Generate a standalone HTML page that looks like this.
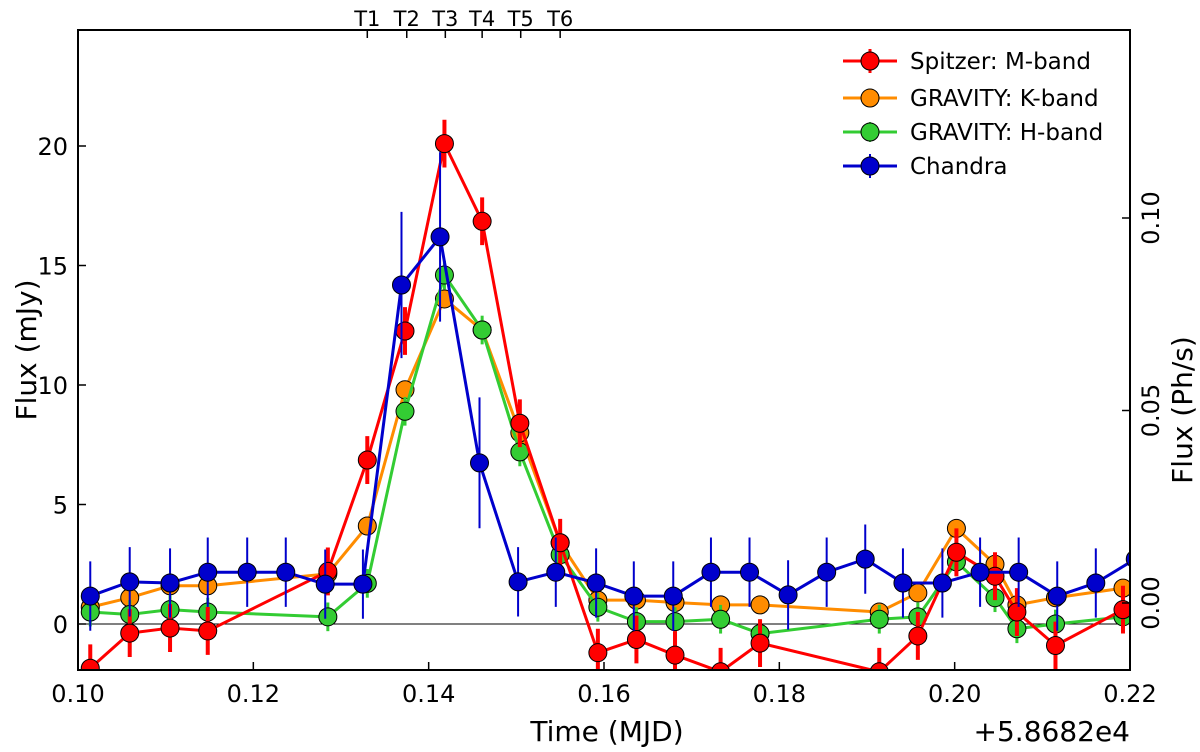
<!DOCTYPE html>
<html><head><meta charset="utf-8"><style>
body{margin:0;background:#fff;}
svg text{font-family:"DejaVu Sans","Liberation Sans",sans-serif;}
</style></head><body>
<svg id="c" width="1200" height="747" viewBox="0 0 1200 747" xmlns="http://www.w3.org/2000/svg"></svg>
<script>
const redT=[0.1014,0.1059,0.1105,0.1148,0.1285,0.1330,0.1373,0.1418,0.1461,0.1504,0.1550,0.1593,0.1637,0.1681,0.1733,0.1778,0.1914,0.1958,0.2002,0.2046,0.2071,0.2115,0.2192];
const redV=[-1.85,-0.38,-0.17,-0.29,2.2,6.86,12.26,20.1,16.85,8.4,3.4,-1.2,-0.65,-1.3,-2.0,-0.8,-2.0,-0.5,3.0,2.0,0.5,-0.9,0.6];
const orgT=[0.1014,0.1059,0.1105,0.1148,0.1285,0.1330,0.1373,0.1418,0.1461,0.1504,0.1550,0.1593,0.1637,0.1681,0.1733,0.1778,0.1914,0.1958,0.2002,0.2046,0.2071,0.2115,0.2192];
const orgV=[0.7,1.1,1.6,1.6,2.1,4.1,9.8,13.6,12.3,8.0,3.4,1.0,1.0,0.9,0.8,0.8,0.5,1.3,4.0,2.5,0.8,1.1,1.5];
const grnT=[0.1014,0.1059,0.1105,0.1148,0.1285,0.1330,0.1373,0.1418,0.1461,0.1504,0.1550,0.1593,0.1637,0.1681,0.1733,0.1778,0.1914,0.1958,0.2002,0.2046,0.2071,0.2115,0.2192];
const grnV=[0.5,0.4,0.6,0.5,0.3,1.7,8.9,14.6,12.3,7.2,2.9,0.7,0.1,0.1,0.2,-0.4,0.2,0.3,2.6,1.1,-0.2,0.0,0.3];
const bluT=[0.1014,0.1059,0.1105,0.1148,0.1193,0.1237,0.1282,0.1325,0.1369,0.1413,0.1458,0.1502,0.1545,0.1591,0.1634,0.1679,0.1722,0.1766,0.1810,0.1854,0.1898,0.1941,0.1986,0.2029,0.2073,0.2117,0.2161,0.2206];
const bluV=[0.0018,0.0055,0.0052,0.008,0.008,0.008,0.0049,0.0049,0.0826,0.0951,0.0364,0.0055,0.008,0.0052,0.0018,0.0018,0.008,0.008,0.0021,0.008,0.0114,0.0052,0.0052,0.008,0.008,0.0018,0.0052,0.0114];
const bluE=[0.009,0.009,0.009,0.009,0.009,0.009,0.009,0.009,0.019,0.022,0.017,0.009,0.009,0.009,0.009,0.009,0.009,0.009,0.009,0.009,0.009,0.009,0.009,0.009,0.009,0.009,0.009,0.009];
const xTicks=[0.10,0.12,0.14,0.16,0.18,0.20,0.22];
const yTicks=[0,5,10,15,20];
const y2Ticks=[0.00,0.05,0.10];
const topT=[0.1330,0.1375,0.1419,0.1461,0.1505,0.1550];
const topL=["T1","T2","T3","T4","T5","T6"];
const L=78,R=1130,T=30,B=670;
const X=t=>L+(t-0.10)/0.12*(R-L);
const Y=v=>624-v*23.9;
const Y2=v=>603-v*3850;
const svg=document.getElementById('c');
const NS='http://www.w3.org/2000/svg';
function mk(tag,at,parent){const e=document.createElementNS(NS,tag);for(const k in at)e.setAttribute(k,at[k]);(parent||svg).appendChild(e);return e;}
const defs=mk('defs',{});const cp=mk('clipPath',{id:'pc'},defs);mk('rect',{x:L,y:T,width:R-L,height:B-T},cp);
const plot=mk('g',{'clip-path':'url(#pc)'});


const zl=mk('line',{x1:L,x2:R,y1:Y(0),y2:Y(0),stroke:'#000','stroke-width':1},plot);


function series(name,ts,vs,ys,col,errs,ew){
  const g=mk('g',{},plot);
  
  
  if(errs){ts.forEach((t,i)=>{const e=errs[i];const l=mk('line',{x1:X(t),x2:X(t),y1:ys(vs[i]-e),y2:ys(vs[i]+e),stroke:col,'stroke-width':ew},g);
    
    });}
  const p=mk('polyline',{points:ts.map((t,i)=>X(t)+','+ys(vs[i])).join(' '),fill:'none',stroke:col,'stroke-width':3,'stroke-linejoin':'round'},g);
  
  
  ts.forEach((t,i)=>{const c=mk('circle',{cx:X(t),cy:ys(vs[i]),r:9,fill:col,stroke:'#000','stroke-width':1},g);
    
    });
}
series('gravity-k-band',orgT,orgV,Y,'#ff8c00',orgV.map(()=>0.3),2);
series('gravity-h-band',grnT,grnV,Y,'#33cc33',grnV.map(()=>0.6),3);
series('spitzer-m-band',redT,redV,Y,'#ff0000',redV.map(()=>1.0),4);
series('chandra',bluT,bluV,Y2,'#0000cc',bluE,2);
const fr=mk('rect',{x:L,y:T,width:R-L,height:B-T,fill:'none',stroke:'#000','stroke-width':2});


xTicks.forEach(t=>{mk('line',{x1:X(t),x2:X(t),y1:B,y2:B-8,stroke:'#000','stroke-width':1.5});
  const tx=mk('text',{x:X(t),y:702,'text-anchor':'middle','font-size':24});tx.textContent=t.toFixed(2);
  
  });
yTicks.forEach(v=>{mk('line',{x1:L,x2:L+8,y1:Y(v),y2:Y(v),stroke:'#000','stroke-width':1.5});
  const tx=mk('text',{x:68,y:Y(v)+9,'text-anchor':'end','font-size':24});tx.textContent=v;
  
  });
y2Ticks.forEach(v=>{mk('line',{x1:R,x2:R-8,y1:Y2(v),y2:Y2(v),stroke:'#000','stroke-width':1.5});
  const tx=mk('text',{x:1150,y:Y2(v)+9,'text-anchor':'middle','font-size':24,transform:`rotate(-90 1150 ${Y2(v)})`});tx.textContent=v.toFixed(2);
  
  });
topT.forEach((t,i)=>{mk('line',{x1:X(t),x2:X(t),y1:T,y2:T+8,stroke:'#000','stroke-width':1.5});
  const tx=mk('text',{x:X(t),y:26,'text-anchor':'middle','font-size':21});tx.textContent=topL[i];
  
  });
</script>
<svg style="position:absolute;left:0;top:0" width="1200" height="747">
<text x="607" y="741" text-anchor="middle" font-size="28" font-family="DejaVu Sans, sans-serif">Time (MJD)</text>
<text x="1130" y="741" text-anchor="end" font-size="28" font-family="DejaVu Sans, sans-serif">+5.8682e4</text>
<text x="36" y="350" text-anchor="middle" font-size="28" font-family="DejaVu Sans, sans-serif" transform="rotate(-90 36 350)">Flux (mJy)</text>
<text x="1192" y="410" text-anchor="middle" font-size="28" font-family="DejaVu Sans, sans-serif" transform="rotate(-90 1192 410)">Flux (Ph/s)</text>
<g font-family="DejaVu Sans, sans-serif" font-size="23">
<g><line x1="843" x2="897" y1="61" y2="61" stroke="#f00" stroke-width="3"/><line x1="870" x2="870" y1="49" y2="73" stroke="#f00" stroke-width="3"/><circle cx="870" cy="61" r="9" fill="#f00" stroke="#000"/><text x="910" y="69">Spitzer: M-band</text></g>
<g><line x1="843" x2="897" y1="98" y2="98" stroke="#ff8c00" stroke-width="3"/><circle cx="870" cy="98" r="9" fill="#ff8c00" stroke="#000"/><text x="910" y="106">GRAVITY: K-band</text></g>
<g><line x1="843" x2="897" y1="132" y2="132" stroke="#33cc33" stroke-width="3"/><line x1="870" x2="870" y1="122" y2="142" stroke="#33cc33" stroke-width="2"/><circle cx="870" cy="132" r="9" fill="#33cc33" stroke="#000"/><text x="910" y="140">GRAVITY: H-band</text></g>
<g><line x1="843" x2="897" y1="166" y2="166" stroke="#0000cc" stroke-width="3"/><line x1="870" x2="870" y1="154" y2="178" stroke="#0000cc" stroke-width="2"/><circle cx="870" cy="166" r="9" fill="#0000cc" stroke="#000"/><text x="910" y="174">Chandra</text></g>
</g>
</svg>
</body></html>
